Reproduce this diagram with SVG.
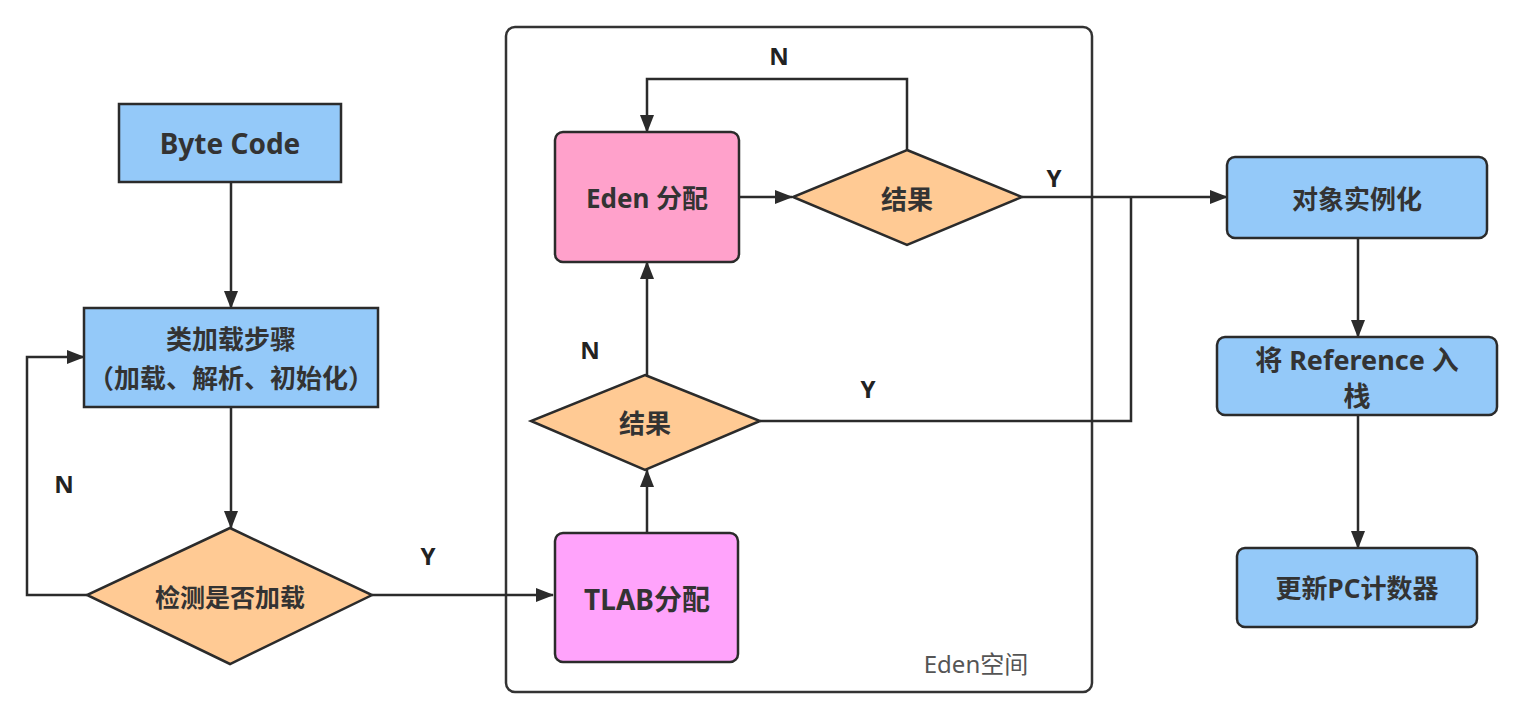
<svg xmlns="http://www.w3.org/2000/svg" width="1515" height="716" viewBox="0 0 1515 716">
<defs>
<marker id="arr" markerUnits="userSpaceOnUse" markerWidth="18" markerHeight="14" refX="17" refY="7" orient="auto">
<path d="M0,0 L18,7 L0,14 z" fill="#2b2b2b"/>
</marker>
<style>
.box{stroke:#2b2b2b;stroke-width:2.5}
.blue{fill:#94c9f9}
.dia{fill:#ffca94}
.eden{fill:#ffa1cb}
.tlab{fill:#ffa3fb}
.t{font-family:"Noto Sans","Noto Sans CJK SC",sans-serif;font-weight:bold;fill:#333;text-anchor:middle;dominant-baseline:central}
.lbl{font-family:"Noto Sans","Noto Sans CJK SC",sans-serif;font-weight:bold;fill:#222;font-size:24px;text-anchor:middle;dominant-baseline:central}
.c{fill:none;stroke:#2b2b2b;stroke-width:2.5}
</style>
</defs>
<rect width="1515" height="716" fill="#ffffff"/>

<g id="eden-space">
<rect x="506" y="27" width="586" height="665" rx="9" fill="none" stroke="#333" stroke-width="2.5"/>
<text x="976" y="663" font-family="Noto Sans,Noto Sans CJK SC,sans-serif" font-size="24" fill="#555" text-anchor="middle" dominant-baseline="central">Eden空间</text>
</g>

<g id="connectors">
<path class="c" d="M231,182 V308" marker-end="url(#arr)"/>
<path class="c" d="M231,407 V528" marker-end="url(#arr)"/>
<path class="c" d="M87,595 H27 V357 H84" marker-end="url(#arr)"/>
<path class="c" d="M372,595 H553" marker-end="url(#arr)"/>
<path class="c" d="M647,533 V470" marker-end="url(#arr)"/>
<path class="c" d="M647,375 V262" marker-end="url(#arr)"/>
<path class="c" d="M739,197 H792" marker-end="url(#arr)"/>
<path class="c" d="M907,150 V79 H647 V132" marker-end="url(#arr)"/>
<path class="c" d="M1022,197 H1227" marker-end="url(#arr)"/>
<path class="c" d="M760,421 H1131 V197"/>
<path class="c" d="M1358,238 V337" marker-end="url(#arr)"/>
<path class="c" d="M1358,415 V548" marker-end="url(#arr)"/>
<text class="lbl" x="64" y="483">N</text>
<text class="lbl" x="428" y="555">Y</text>
<text class="lbl" x="779" y="55">N</text>
<text class="lbl" x="1054" y="177">Y</text>
<text class="lbl" x="590" y="349">N</text>
<text class="lbl" x="868" y="388">Y</text>
</g>

<g id="byte-code">
<rect class="box blue" x="119" y="104" width="222" height="78"/>
<text class="t" x="230" y="143" font-size="28">Byte Code</text>
</g>

<g id="class-loading">
<rect class="box blue" x="84" y="308" width="294" height="99"/>
<text class="t" x="231" y="339" font-size="26">类加载步骤</text>
<text class="t" x="231" y="378" font-size="26">（加载、解析、初始化）</text>
</g>

<g id="check-loaded">
<polygon class="box dia" points="230,528 372,595 230,664 87,595"/>
<text class="t" x="230" y="597" font-size="25">检测是否加载</text>
</g>

<g id="tlab">
<rect class="box tlab" x="555" y="533" width="183" height="129" rx="8"/>
<text class="t" x="647" y="599" font-size="28">TLAB分配</text>
</g>

<g id="result-lower">
<polygon class="box dia" points="645,375 760,421 645,470 531,421"/>
<text class="t" x="645" y="423" font-size="26">结果</text>
</g>

<g id="eden-alloc">
<rect class="box eden" x="555" y="132" width="184" height="130" rx="8"/>
<text class="t" x="647" y="198" font-size="26">Eden 分配</text>
</g>

<g id="result-upper">
<polygon class="box dia" points="907,150 1022,197 907,245 793,197"/>
<text class="t" x="907" y="199" font-size="26">结果</text>
</g>

<g id="instantiate">
<rect class="box blue" x="1227" y="157" width="260" height="81" rx="8"/>
<text class="t" x="1357" y="199" font-size="26">对象实例化</text>
</g>

<g id="push-ref">
<rect class="box blue" x="1217" y="337" width="280" height="78" rx="8"/>
<text class="t" x="1357" y="359" font-size="27">将 Reference 入</text>
<text class="t" x="1357" y="395" font-size="27">栈</text>
</g>

<g id="update-pc">
<rect class="box blue" x="1237" y="548" width="240" height="79" rx="8"/>
<text class="t" x="1357" y="588" font-size="26">更新PC计数器</text>
</g>
</svg>
